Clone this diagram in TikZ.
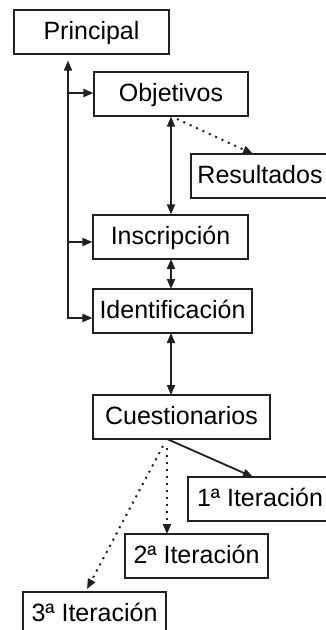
\documentclass[tikz,border=0pt]{standalone}
\usepackage{fontspec}
\setmainfont{Liberation Sans}
\usetikzlibrary{arrows.meta,calc}
\definecolor{ink}{HTML}{231F20}
\tikzset{
  box/.style={draw=ink, line width=1.1pt, fill=white, inner sep=0pt, minimum height=44pt,
              text height=17pt, text depth=3pt, font=\fontsize{25}{28}\selectfont, text=black},
  arr/.style={draw=ink, line width=1.8pt, -{Triangle[length=10pt,width=8pt]}},
  darr/.style={draw=ink, line width=1.8pt, {Triangle[length=10pt,width=8pt]}-{Triangle[length=10pt,width=8pt]}},
  dotarr/.style={draw=ink, line width=2pt, dash pattern=on 2pt off 5pt,
                 -{Triangle[length=10pt,width=8pt]}},
}
\begin{document}
\begin{tikzpicture}[x=1pt,y=1pt]
\useasboundingbox (0,0) rectangle (325,-630);
% boxes
\node[box, minimum width=155pt] (prin) at (91.5,-32) {Principal};
\node[box, minimum width=154pt] (obj) at (171,-94) {Objetivos};
\node[box, minimum width=138pt] (res) at (260,-176) {Resultados};
\node[box, minimum width=155pt] (ins) at (170.5,-237) {Inscripción};
\node[box, minimum width=159pt] (ide) at (172.5,-311) {Identificación};
\node[box, minimum width=177pt] (cue) at (181.5,-417) {Cuestionarios};
\node[box, minimum width=144pt] (it1) at (260,-499) {1ª Iteración};
\node[box, minimum width=143pt] (it2) at (196.5,-556) {2ª Iteración};
\node[box, minimum width=143pt] (it3) at (94.5,-614) {3ª Iteración};
% helper coordinates
\coordinate (vbot) at (68,-319);
\coordinate (c1) at (171,-259);
\coordinate (c2) at (171,-289);
\coordinate (c3) at (171,-333);
\coordinate (c4) at (171,-395);
\coordinate (q0) at (167,-439);
\coordinate (q1) at (253,-477);
\coordinate (q2s) at (167,-448);
\coordinate (q2e) at (167,-534);
\coordinate (q3s) at (163,-446);
\coordinate (q3e) at (87,-589);
\coordinate (r0) at (177,-119);
\coordinate (r1) at (253,-154);
% main vertical line
\draw[arr, shorten >=6pt] (vbot) -- (vbot |- prin.south);
\draw[arr] ($(obj.west)+(-26,1)$) -- ($(obj.west)+(0,1)$);
\draw[arr] ($(ins.west)+(-25,-5)$) -- ($(ins.west)+(0,-5)$);
\draw[arr] ($(ide.west)+(-25,-7)$) -- ($(ide.west)+(0,-7)$);
% vertical double arrows
\draw[darr] (obj.south) -- (obj.south |- ins.north);
\draw[darr] (c1) -- (c2);
\draw[darr] (c3) -- (c4);
% objetivos -> resultados
\draw[dotarr] (r0) -- (r1);
% cuestionarios -> iterations
\draw[arr] (q0) -- (q1);
\draw[dotarr] (q2s) -- (q2e);
\draw[dotarr] (q3s) -- (q3e);
\end{tikzpicture}
\end{document}
